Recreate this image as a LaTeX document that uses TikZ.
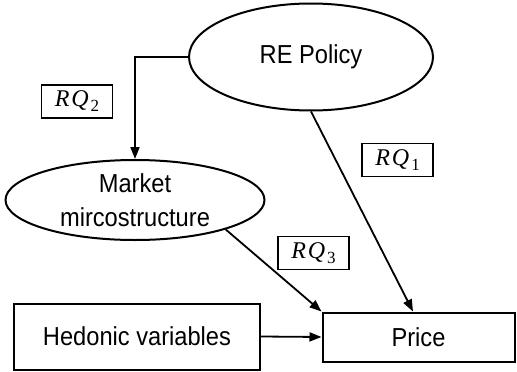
\documentclass[tikz,border=0pt]{standalone}
\usepackage{fontspec}
\setmainfont{Liberation Sans}[FakeStretch=0.91]
\newfontfamily\rqfont{Liberation Serif}
\usetikzlibrary{shapes.geometric,arrows.meta}
\newcommand{\rqlabel}[1]{{\rqfont\itshape R\kern2pt Q}\kern2pt\raisebox{-5pt}{\rqfont\fontsize{17}{17}\selectfont #1}}
\tikzset{
  lbl/.style={font=\fontsize{26}{33.6}\selectfont, align=center},
  ell/.style={draw, ellipse, line width=2pt, inner sep=0pt, lbl},
  rbox/.style={draw, rectangle, line width=2pt, inner sep=0pt, lbl},
  rq/.style={draw, rectangle, line width=1.6pt, inner sep=0pt, minimum width=71pt, minimum height=33pt, font=\fontsize{24}{24}\selectfont},
  arr/.style={line width=1.8pt, -{Triangle[length=12pt,width=9pt]}}
}
\begin{document}
\begin{tikzpicture}[x=1pt,y=-1pt]
\useasboundingbox (0,0) rectangle (517,372);
\node[ell, minimum width=244pt, minimum height=107pt] (RE) at (311,57) {RE Policy};
\node[ell, minimum width=259pt, minimum height=80pt] (M) at (135,200) {Market\\mircostructure};
\node[rbox, minimum width=246pt, minimum height=66pt] (H) at (137,336.5) {Hedonic variables};
\node[rbox, minimum width=192pt, minimum height=49pt] (P) at (418.5,337) {Price};
\node[rq] (q2) at (77,101.5) {\rqlabel{2}};
\node[rq] (q1) at (397.5,160) {\rqlabel{1}};
\node[rq] (q3) at (313.5,253) {\rqlabel{3}};
\draw[arr] (RE.west) -| (M.north);
\draw[arr] (RE.south) -- ([xshift=-5.5pt]P.north);
\draw[arr] (M.-18) -- (P.north west);
\draw[arr] (H.east) -- (P.west);
\end{tikzpicture}
\end{document}
